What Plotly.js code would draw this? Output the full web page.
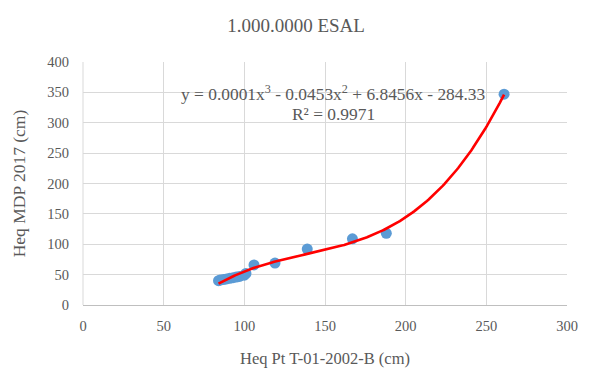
<!DOCTYPE html>
<html>
<head>
<meta charset="utf-8">
<script src="https://cdn.plot.ly/plotly-3.0.1.min.js"></script>
<style>
  html, body { margin: 0; padding: 0; background: #fff; }
  #chart { width: 592px; height: 372px; }
</style>
</head>
<body>
<div id="chart"></div>
<script>
// Measured thickness pairs (cm)
const heqPt = [84, 85, 87, 89, 91, 93, 95, 97, 100, 101, 106, 119, 139, 167, 188, 261];
const heqMdp = [40, 41, 42, 43, 44, 45, 46, 47, 49, 52, 66, 69, 92, 109, 118, 347];

const xTicks = [0, 50, 100, 150, 200, 250, 300];
const yTicks = [0, 50, 100, 150, 200, 250, 300, 350, 400];

const chartTitle = '1.000.0000 ESAL';
const xTitle = 'Heq Pt T-01-2002-B (cm)';
const yTitle = 'Heq MDP 2017 (cm)';
const eqLine1 = 'y = 0.0001x<sup>3</sup> - 0.0453x<sup>2</sup> + 6.8456x - 284.33';
const eqLine2 = 'R² = 0.9971';

// Least-squares cubic trendline over the data range
function polyfit(xs, ys, deg) {
  const n = deg + 1;
  const A = Array.from({length: n}, () => new Array(n + 1).fill(0));
  for (let k = 0; k < xs.length; k++) {
    for (let i = 0; i < n; i++) {
      for (let j = 0; j < n; j++) A[i][j] += Math.pow(xs[k], i + j);
      A[i][n] += ys[k] * Math.pow(xs[k], i);
    }
  }
  for (let i = 0; i < n; i++) {
    let p = i;
    for (let r = i + 1; r < n; r++) if (Math.abs(A[r][i]) > Math.abs(A[p][i])) p = r;
    [A[i], A[p]] = [A[p], A[i]];
    for (let r = 0; r < n; r++) {
      if (r === i) continue;
      const f = A[r][i] / A[i][i];
      for (let c = i; c <= n; c++) A[r][c] -= f * A[i][c];
    }
  }
  return A.map((row, i) => row[n] / row[i]);
}
const coef = polyfit(heqPt, heqMdp, 3);
const xMin = Math.min(...heqPt), xMax = Math.max(...heqPt);
const fitX = [], fitY = [];
for (let i = 0; i <= 200; i++) {
  const x = xMin + (xMax - xMin) * i / 200;
  fitX.push(x);
  fitY.push(coef[0] + coef[1] * x + coef[2] * x * x + coef[3] * x * x * x);
}

const serif = 'Liberation Serif, Times New Roman, serif';
const grey = '#595959';

const data = [
  {
    x: heqPt, y: heqMdp, type: 'scatter', mode: 'markers',
    marker: {color: '#5b9bd5', size: 11},
    hoverinfo: 'x+y'
  },
  {
    x: fitX, y: fitY, type: 'scatter', mode: 'lines',
    line: {color: '#ff0000', width: 2.6},
    hoverinfo: 'skip'
  }
];

const layout = {
  width: 592, height: 372,
  margin: {l: 83, r: 25, t: 62, b: 67},
  paper_bgcolor: '#fff', plot_bgcolor: '#fff',
  showlegend: false,
  font: {family: serif, color: grey, size: 14},
  title: {
    text: chartTitle, x: 0.5, xanchor: 'center',
    y: 1 - 25 / 372, yref: 'container', yanchor: 'middle',
    font: {family: serif, size: 19, color: grey}
  },
  xaxis: {
    range: [0, 300], tickvals: xTicks, ticktext: xTicks.map(String),
    showgrid: true, gridcolor: '#d9d9d9', gridwidth: 1,
    zeroline: false, showline: true, linecolor: '#bfbfbf', linewidth: 1,
    ticks: '', ticklabelstandoff: 8,
    tickfont: {family: serif, size: 14.5, color: grey},
    title: {text: xTitle, font: {family: serif, size: 16.5, color: grey}, standoff: 19}
  },
  yaxis: {
    range: [0, 400], tickvals: yTicks, ticktext: yTicks.map(String),
    showgrid: true, gridcolor: '#d9d9d9', gridwidth: 1,
    zeroline: false, showline: false,
    ticks: '', ticklabelstandoff: 13,
    tickfont: {family: serif, size: 14.5, color: grey},
    title: {text: yTitle, font: {family: serif, size: 17.5, color: grey}, standoff: 17}
  },
  shapes: [
    {type: 'line', xref: 'paper', yref: 'paper', x0: 0, x1: 0, y0: 0, y1: 1,
     line: {color: '#d9d9d9', width: 1}}
  ],
  annotations: [
    {text: eqLine1, xref: 'x', yref: 'y', x: 155.5, y: 349, showarrow: false,
     xanchor: 'center', yanchor: 'middle',
     font: {family: serif, size: 17.4, color: grey}},
    {text: eqLine2, xref: 'x', yref: 'y', x: 155.5, y: 315, showarrow: false,
     xanchor: 'center', yanchor: 'middle',
     font: {family: serif, size: 17.4, color: grey}}
  ]
};

Plotly.newPlot('chart', data, layout, {displayModeBar: false, staticPlot: true});
</script>
</body>
</html>
